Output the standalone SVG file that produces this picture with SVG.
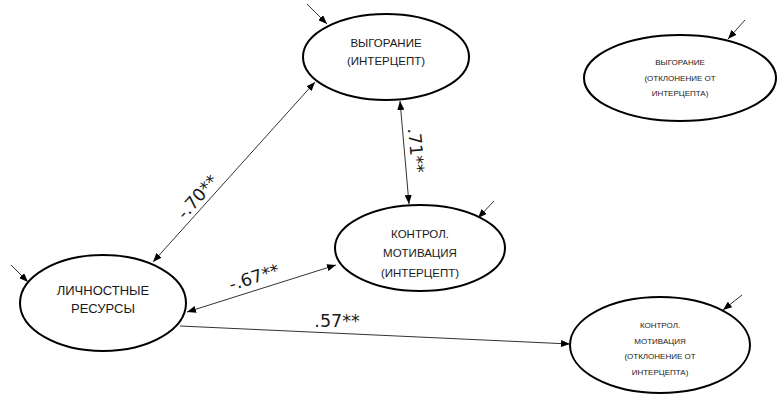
<svg xmlns="http://www.w3.org/2000/svg" width="777" height="396" viewBox="0 0 777 396">
<defs>
<marker id="ah" viewBox="0 0 10 10" refX="10" refY="5" markerWidth="9" markerHeight="7" markerUnits="userSpaceOnUse" orient="auto-start-reverse" preserveAspectRatio="none">
<path d="M0,0 L10,5 L0,10 Z" fill="#000"/>
</marker>
</defs>
<style>
.node ellipse{fill:#fff;stroke:#000;stroke-width:2}
.node text{font-family:"Liberation Sans",Arial,sans-serif;fill:#1a1a1a;text-anchor:middle}
.big text{font-size:11.5px}
.small text{font-size:8px}
.c line{stroke:#333;stroke-width:1}
.lbl{font-family:"DejaVu Sans",sans-serif;font-size:17.5px;fill:#1a1a1a;text-anchor:middle}
</style>
<g id="burnout-intercept" class="node big">
<ellipse cx="386" cy="57" rx="83" ry="43"/>
<text x="386" y="47">ВЫГОРАНИЕ</text>
<text x="386" y="65">(ИНТЕРЦЕПТ)</text>
</g>
<g id="burnout-slope" class="node small">
<ellipse cx="680" cy="78" rx="96" ry="43"/>
<text x="680" y="65">ВЫГОРАНИЕ</text>
<text x="680" y="81">(ОТКЛОНЕНИЕ ОТ</text>
<text x="680" y="96">ИНТЕРЦЕПТА)</text>
</g>
<g id="personal-resources" class="node">
<ellipse cx="103" cy="303" rx="83" ry="48"/>
<text x="103" y="295" style="font-size:13px">ЛИЧНОСТНЫЕ</text>
<text x="103" y="313" style="font-size:13px">РЕСУРСЫ</text>
</g>
<g id="motivation-intercept" class="node big">
<ellipse cx="420" cy="248" rx="85" ry="43"/>
<text x="420" y="238">КОНТРОЛ.</text>
<text x="420" y="257">МОТИВАЦИЯ</text>
<text x="420" y="277">(ИНТЕРЦЕПТ)</text>
</g>
<g id="motivation-slope" class="node small">
<ellipse cx="660" cy="345" rx="90" ry="48"/>
<text x="660" y="328">КОНТРОЛ.</text>
<text x="660" y="344">МОТИВАЦИЯ</text>
<text x="660" y="359">(ОТКЛОНЕНИЕ ОТ</text>
<text x="660" y="375">ИНТЕРЦЕПТА)</text>
</g>
<g id="connectors" class="c">
<line x1="153" y1="262" x2="315" y2="82" marker-start="url(#ah)" marker-end="url(#ah)"/>
<line x1="400" y1="101" x2="409" y2="204" marker-start="url(#ah)" marker-end="url(#ah)"/>
<line x1="187" y1="312" x2="336" y2="265" marker-start="url(#ah)" marker-end="url(#ah)"/>
<line x1="180" y1="326" x2="570" y2="344" marker-end="url(#ah)"/>
<line x1="307" y1="4" x2="327" y2="24" marker-end="url(#ah)"/>
<line x1="745" y1="20" x2="728" y2="39" marker-end="url(#ah)"/>
<line x1="11" y1="265" x2="28" y2="282" marker-end="url(#ah)"/>
<line x1="494" y1="201" x2="478" y2="218" marker-end="url(#ah)"/>
<line x1="742" y1="295" x2="723" y2="310" marker-end="url(#ah)"/>
<text class="lbl" transform="translate(202,201) rotate(-48)">-.70**</text>
<text class="lbl" transform="translate(410,151) rotate(84.6)">.71**</text>
<text class="lbl" transform="translate(256,283) rotate(-17.4)">-.67**</text>
<text class="lbl" x="337" y="327">.57**</text>
</g>
</svg>
